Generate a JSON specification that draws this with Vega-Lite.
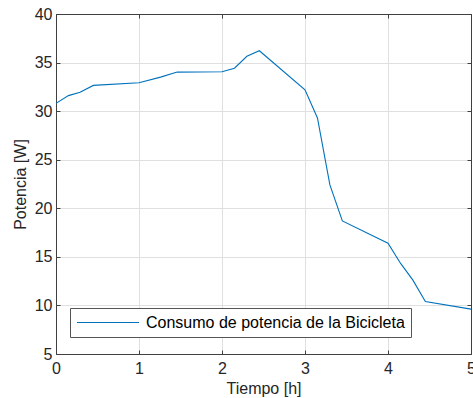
{
  "$schema": "https://vega.github.io/schema/vega-lite/v6.json",
  "width": 415,
  "height": 340,
  "autosize": {"type": "none"},
  "padding": {"left": 56, "top": 14, "right": 2, "bottom": 44},
  "background": "white",
  "config": {
    "font": "Liberation Sans",
    "view": {"stroke": "#404040", "strokeWidth": 1},
    "axis": {
      "labelFont": "Liberation Sans",
      "titleFont": "Liberation Sans",
      "labelFontSize": 16,
      "titleFontSize": 16,
      "titleFontWeight": "normal",
      "labelColor": "#262626",
      "titleColor": "#262626",
      "domainColor": "#404040",
      "tickColor": "#404040",
      "gridColor": "#e0e0e0",
      "gridOpacity": 1,
      "labelFlush": false
    }
  },
  "data": {
    "values": [
      {"t": 0, "p": 30.8, "s": "Consumo de potencia de la Bicicleta"},
      {"t": 0.15, "p": 31.6, "s": "Consumo de potencia de la Bicicleta"},
      {"t": 0.29, "p": 31.95, "s": "Consumo de potencia de la Bicicleta"},
      {"t": 0.45, "p": 32.65, "s": "Consumo de potencia de la Bicicleta"},
      {"t": 1.0, "p": 32.93, "s": "Consumo de potencia de la Bicicleta"},
      {"t": 1.26, "p": 33.5, "s": "Consumo de potencia de la Bicicleta"},
      {"t": 1.46, "p": 34.02, "s": "Consumo de potencia de la Bicicleta"},
      {"t": 2.0, "p": 34.05, "s": "Consumo de potencia de la Bicicleta"},
      {"t": 2.15, "p": 34.42, "s": "Consumo de potencia de la Bicicleta"},
      {"t": 2.3, "p": 35.65, "s": "Consumo de potencia de la Bicicleta"},
      {"t": 2.45, "p": 36.22, "s": "Consumo de potencia de la Bicicleta"},
      {"t": 3.0, "p": 32.2, "s": "Consumo de potencia de la Bicicleta"},
      {"t": 3.15, "p": 29.3, "s": "Consumo de potencia de la Bicicleta"},
      {"t": 3.3, "p": 22.4, "s": "Consumo de potencia de la Bicicleta"},
      {"t": 3.45, "p": 18.7, "s": "Consumo de potencia de la Bicicleta"},
      {"t": 4.0, "p": 16.4, "s": "Consumo de potencia de la Bicicleta"},
      {"t": 4.15, "p": 14.35, "s": "Consumo de potencia de la Bicicleta"},
      {"t": 4.3, "p": 12.6, "s": "Consumo de potencia de la Bicicleta"},
      {"t": 4.45, "p": 10.4, "s": "Consumo de potencia de la Bicicleta"},
      {"t": 5.0, "p": 9.62, "s": "Consumo de potencia de la Bicicleta"}
    ]
  },
  "layer": [
    {
      "mark": {"type": "line", "strokeWidth": 1.1},
      "encoding": {
        "x": {
          "field": "t", "type": "quantitative",
          "scale": {"domain": [0, 5], "nice": false, "zero": false},
          "axis": {"orient": "bottom", "title": "Tiempo [h]", "values": [0, 1, 2, 3, 4, 5], "format": "d", "tickSize": -4, "labelPadding": 10, "titlePadding": 4, "grid": true}
        },
        "y": {
          "field": "p", "type": "quantitative",
          "scale": {"domain": [5, 40], "nice": false, "zero": false},
          "axis": {"orient": "left", "title": "Potencia [W]", "values": [5, 10, 15, 20, 25, 30, 35, 40], "tickSize": -4, "labelPadding": 8, "titlePadding": 6, "grid": true}
        },
        "color": {
          "field": "s", "type": "nominal",
          "scale": {"domain": ["Consumo de potencia de la Bicicleta"], "range": ["#0072BD"]},
          "legend": {
            "title": null,
            "orient": "none",
            "legendX": 14,
            "legendY": 294,
            "symbolType": "stroke",
            "symbolSize": 3844,
            "symbolStrokeWidth": 1.1,
            "clipHeight": 17,
            "labelFontSize": 16,
            "labelFont": "Liberation Sans",
            "labelColor": "#000000",
            "labelOffset": 6,
            "labelLimit": 0,
            "padding": 6,
            "fillColor": "white",
            "strokeColor": "#555555",
            "cornerRadius": 0
          }
        }
      }
    },
    {
      "mark": {"type": "line", "opacity": 0},
      "encoding": {
        "x": {
          "field": "t", "type": "quantitative",
          "axis": {"orient": "top", "title": null, "values": [0, 1, 2, 3, 4, 5], "labels": false, "tickSize": -4, "grid": false}
        },
        "y": {
          "field": "p", "type": "quantitative",
          "axis": {"orient": "right", "title": null, "values": [5, 10, 15, 20, 25, 30, 35, 40], "labels": false, "tickSize": -4, "grid": false}
        }
      }
    }
  ],
  "resolve": {"axis": {"x": "independent", "y": "independent"}}
}
